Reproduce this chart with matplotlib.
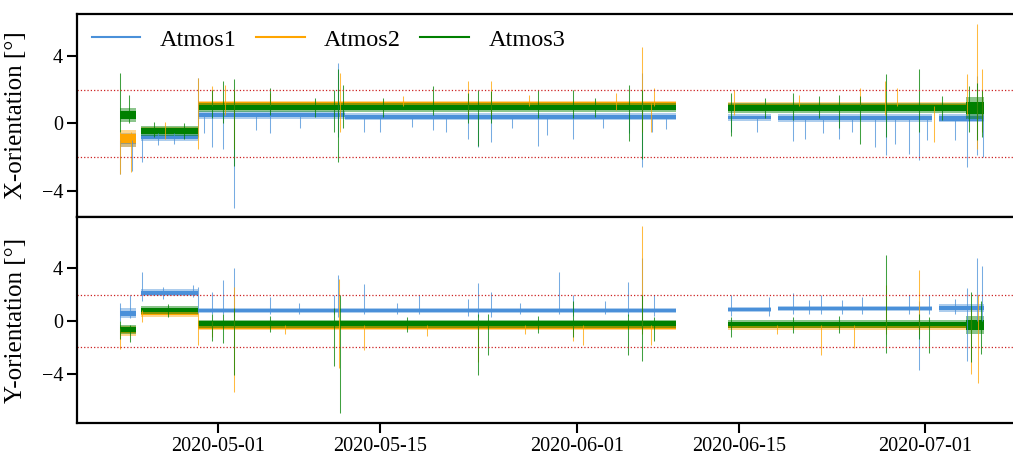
import matplotlib
matplotlib.use("Agg")
import matplotlib.pyplot as plt
import matplotlib.dates as mdates
import pandas as pd
from matplotlib.lines import Line2D

plt.rcParams['font.family'] = ['Liberation Serif', 'DejaVu Serif']

SERIES = ["Atmos1", "Atmos2", "Atmos3"]
COLORS = ["#4a90d9", "#ffa500", "#008000"]
LIMIT = 2.0

# noise bands: (start, end, level, spread)
X1_BANDS = [("2020-04-22 13:00", "2020-04-23 22:00", -1.0, 0.4),
            ("2020-04-24 09:00", "2020-04-29 07:00", -0.8, 0.25),
            ("2020-04-29 07:00", "2020-05-12 00:00", 0.5, 0.22),
            ("2020-05-12 00:00", "2020-06-09 13:00", 0.4, 0.22),
            ("2020-06-14 01:00", "2020-06-17 18:00", 0.35, 0.2),
            ("2020-06-18 09:00", "2020-07-01 15:00", 0.32, 0.22),
            ("2020-07-02 05:00", "2020-07-06 02:00", 0.3, 0.25)]
X2_BANDS = [("2020-04-22 13:00", "2020-04-23 22:00", -0.9, 0.5),
            ("2020-04-24 09:00", "2020-04-29 07:00", -0.4, 0.2),
            ("2020-04-29 07:00", "2020-06-09 13:00", 1.12, 0.22),
            ("2020-06-14 01:00", "2020-07-06 02:00", 1.05, 0.2)]
X3_BANDS = [("2020-04-22 13:00", "2020-04-23 22:00", 0.5, 0.4),
            ("2020-04-24 09:00", "2020-04-29 07:00", -0.45, 0.32),
            ("2020-04-29 07:00", "2020-06-09 13:00", 0.95, 0.27),
            ("2020-06-14 01:00", "2020-07-04 14:00", 0.92, 0.3),
            ("2020-07-04 14:00", "2020-07-06 02:00", 0.9, 0.65)]
Y1_BANDS = [("2020-04-22 13:00", "2020-04-23 22:00", 0.6, 0.35),
            ("2020-04-24 09:00", "2020-04-29 07:00", 2.15, 0.28),
            ("2020-04-29 07:00", "2020-06-09 13:00", 0.8, 0.22),
            ("2020-06-14 01:00", "2020-06-17 18:00", 0.9, 0.2),
            ("2020-06-18 09:00", "2020-07-01 15:00", 0.95, 0.22),
            ("2020-07-02 05:00", "2020-07-06 02:00", 1.0, 0.3)]
Y2_BANDS = [("2020-04-22 13:00", "2020-04-23 22:00", -0.75, 0.35),
            ("2020-04-24 09:00", "2020-04-29 07:00", 0.6, 0.26),
            ("2020-04-29 07:00", "2020-06-09 13:00", -0.45, 0.22),
            ("2020-06-14 01:00", "2020-07-06 02:00", -0.45, 0.2)]
Y3_BANDS = [("2020-04-22 13:00", "2020-04-23 22:00", -0.65, 0.35),
            ("2020-04-24 09:00", "2020-04-29 07:00", 0.85, 0.3),
            ("2020-04-29 07:00", "2020-06-09 13:00", -0.2, 0.3),
            ("2020-06-14 01:00", "2020-07-04 14:00", -0.25, 0.3),
            ("2020-07-04 14:00", "2020-07-06 02:00", -0.3, 0.65)]

# spikes: (time, low, high)
X1_SPIKES = [("2020-04-22 13:00", -3.0, -1.0), ("2020-04-23 13:00", -2.8, -1.0),
             ("2020-04-24 10:00", -2.3, -0.8), ("2020-04-25 20:00", -1.3, -0.6),
             ("2020-04-27 04:00", -1.2, -0.6), ("2020-04-29 06:00", -0.8, 2.7),
             ("2020-04-29 20:00", -0.6, 0.5), ("2020-04-30 12:00", -1.4, 0.5),
             ("2020-05-01 11:00", -1.5, 0.5), ("2020-05-02 10:00", -5.0, 0.5),
             ("2020-05-04 06:00", -0.4, 0.5), ("2020-05-05 12:00", -0.6, 0.5),
             ("2020-05-08 02:00", -0.3, 0.5), ("2020-05-11 08:00", -0.8, 3.6),
             ("2020-05-13 14:00", -0.5, 0.5), ("2020-05-15 00:00", -0.5, 0.5),
             ("2020-05-17 18:00", -0.2, 0.4), ("2020-05-19 13:00", -0.4, 0.4),
             ("2020-05-20 16:00", -0.5, 0.4), ("2020-05-22 14:00", -0.9, 0.4),
             ("2020-05-23 10:00", -1.4, 0.4), ("2020-05-24 13:00", -1.1, 0.4),
             ("2020-05-26 08:00", -0.3, 0.4), ("2020-05-28 15:00", -1.35, 0.4),
             ("2020-05-29 10:00", -0.7, 0.4), ("2020-05-31 16:00", -0.9, 0.4),
             ("2020-06-03 06:00", -0.3, 0.4), ("2020-06-05 12:00", -0.6, 0.4),
             ("2020-06-06 15:00", -2.6, 3.0), ("2020-06-07 12:00", -0.5, 0.3),
             ("2020-06-08 17:00", -0.35, 0.3), ("2020-06-14 07:00", -0.5, 0.3),
             ("2020-06-16 12:00", -0.5, 0.3), ("2020-06-19 16:00", -1.05, 0.3),
             ("2020-06-20 15:00", -0.9, 0.3), ("2020-06-22 06:00", -0.6, 0.3),
             ("2020-06-23 14:00", -0.9, 0.3), ("2020-06-24 18:00", -0.5, 0.3),
             ("2020-06-26 16:00", -1.4, 0.3), ("2020-06-27 15:00", -1.9, 0.3),
             ("2020-06-28 10:00", -1.2, 0.3), ("2020-06-29 15:00", -1.8, 0.3),
             ("2020-06-30 12:00", -2.2, 0.3), ("2020-07-01 04:00", -1.0, 0.3),
             ("2020-07-03 14:00", -1.0, 0.3), ("2020-07-04 15:00", -2.6, 0.3),
             ("2020-07-05 12:00", -1.9, 2.8), ("2020-07-06 01:00", -2.0, 0.5)]
X2_SPIKES = [("2020-04-22 13:00", -3.0, -0.5), ("2020-04-23 12:00", -2.9, -0.5),
             ("2020-04-26 10:00", -0.9, 0.1), ("2020-04-29 07:00", -1.5, 2.7),
             ("2020-04-30 12:00", 1.0, 2.2), ("2020-05-01 15:00", 0.5, 2.3),
             ("2020-05-02 10:00", -1.5, 2.0), ("2020-05-05 12:00", 1.0, 1.8),
             ("2020-05-11 12:00", -0.5, 3.0), ("2020-05-17 00:00", 1.0, 1.6),
             ("2020-05-22 14:00", 0.5, 2.5), ("2020-05-24 13:00", 0.5, 2.5),
             ("2020-05-27 20:00", 1.0, 1.7), ("2020-06-04 08:00", 0.8, 1.8),
             ("2020-06-06 15:00", -0.5, 4.5), ("2020-06-07 09:00", -0.5, 1.2),
             ("2020-06-07 16:00", 1.0, 2.1), ("2020-06-14 12:00", 0.5, 2.0),
             ("2020-06-20 04:00", 1.0, 1.7), ("2020-06-25 09:00", 1.0, 2.1),
             ("2020-06-27 14:00", 0.5, 2.5), ("2020-06-28 14:00", 1.0, 2.1),
             ("2020-07-01 19:00", -1.1, 1.0), ("2020-07-04 15:00", 0.5, 2.9),
             ("2020-07-05 12:00", -1.5, 5.9), ("2020-07-05 22:00", -0.5, 3.2)]
X3_SPIKES = [("2020-04-22 13:00", -0.5, 3.0), ("2020-04-23 08:00", 0.0, 1.7),
             ("2020-04-25 12:00", -0.8, 0.1), ("2020-04-28 02:00", -0.9, 0.0),
             ("2020-04-30 12:00", 0.3, 2.0), ("2020-05-01 11:00", 0.0, 2.5),
             ("2020-05-02 10:00", -2.5, 2.6), ("2020-05-05 12:00", 0.5, 2.1),
             ("2020-05-09 08:00", 0.4, 1.5), ("2020-05-11 00:00", -0.5, 2.0),
             ("2020-05-11 08:00", -2.3, 3.2), ("2020-05-11 18:00", -0.3, 2.3),
             ("2020-05-15 06:00", 0.4, 1.5), ("2020-05-19 13:00", 0.5, 2.2),
             ("2020-05-22 14:00", 0.0, 1.8), ("2020-05-23 10:00", -1.35, 2.0),
             ("2020-05-24 13:00", 0.0, 1.9), ("2020-05-28 15:00", 0.3, 2.0),
             ("2020-05-31 16:00", 0.3, 2.0), ("2020-06-02 12:00", 0.4, 1.5),
             ("2020-06-05 12:00", -1.05, 2.3), ("2020-06-06 15:00", -2.1, 2.0),
             ("2020-06-14 07:00", -0.75, 1.8), ("2020-06-17 06:00", 0.3, 1.5),
             ("2020-06-19 16:00", 0.2, 1.8), ("2020-06-21 20:00", 0.3, 1.6),
             ("2020-06-23 14:00", -0.3, 1.7), ("2020-06-25 09:00", -1.2, 1.6),
             ("2020-06-27 15:00", -0.8, 2.9), ("2020-06-30 12:00", -0.5, 3.2),
             ("2020-07-02 12:00", 0.2, 1.6), ("2020-07-04 20:00", -0.5, 2.2),
             ("2020-07-05 12:00", -1.0, 2.4), ("2020-07-05 22:00", -0.8, 2.0)]
Y1_SPIKES = [("2020-04-22 13:00", 0.0, 1.4), ("2020-04-23 10:00", 0.2, 2.0),
             ("2020-04-24 10:00", 1.5, 3.7), ("2020-04-26 06:00", 1.7, 2.6),
             ("2020-04-28 21:00", 1.8, 2.75), ("2020-04-29 06:00", 0.5, 2.6),
             ("2020-04-30 12:00", 0.5, 2.2), ("2020-05-01 11:00", 0.5, 3.1),
             ("2020-05-02 10:00", 0.4, 4.05), ("2020-05-05 12:00", 0.5, 1.8),
             ("2020-05-08 00:00", 0.5, 1.4), ("2020-05-11 00:00", 0.5, 2.0),
             ("2020-05-11 08:00", 0.3, 3.5), ("2020-05-13 14:00", 0.5, 2.8),
             ("2020-05-16 10:00", 0.5, 1.4), ("2020-05-18 08:00", 0.5, 2.0),
             ("2020-05-22 14:00", 0.4, 1.7), ("2020-05-23 10:00", 0.3, 2.9),
             ("2020-05-24 13:00", 0.3, 2.2), ("2020-05-27 02:00", 0.5, 1.4),
             ("2020-05-30 11:00", 0.5, 3.7), ("2020-05-31 16:00", 0.4, 2.0),
             ("2020-06-03 10:00", 0.5, 1.5), ("2020-06-05 10:00", 0.4, 2.95),
             ("2020-06-06 15:00", -0.5, 4.8), ("2020-06-07 16:00", 0.4, 2.0),
             ("2020-06-14 07:00", 0.4, 2.0), ("2020-06-17 14:00", 0.4, 1.8),
             ("2020-06-19 16:00", 0.5, 2.1), ("2020-06-21 00:00", 0.5, 1.6),
             ("2020-06-22 02:00", 0.5, 2.0), ("2020-06-23 20:00", 0.5, 1.6),
             ("2020-06-25 13:00", 0.5, 1.8), ("2020-06-29 15:00", 0.5, 2.0),
             ("2020-06-30 12:00", -3.7, 1.5), ("2020-07-01 08:00", 0.5, 2.0),
             ("2020-07-03 14:00", 0.5, 1.7), ("2020-07-04 15:00", -3.0, 2.5),
             ("2020-07-05 12:00", 0.0, 4.8), ("2020-07-05 22:00", 0.0, 4.2)]
Y2_SPIKES = [("2020-04-22 13:00", -2.1, -0.5), ("2020-04-24 10:00", -0.1, 0.8),
             ("2020-04-29 07:00", -1.85, 0.6), ("2020-04-30 12:00", -1.2, 0.0),
             ("2020-05-02 10:00", -5.4, 2.6), ("2020-05-06 18:00", -1.0, -0.3),
             ("2020-05-11 10:00", -3.6, 3.2), ("2020-05-13 14:00", -2.2, -0.3),
             ("2020-05-19 00:00", -1.1, -0.3), ("2020-05-23 10:00", -3.1, -0.3),
             ("2020-05-27 12:00", -1.0, -0.3), ("2020-05-31 16:00", -1.5, -0.3),
             ("2020-06-01 12:00", -1.8, -0.3), ("2020-06-06 15:00", -1.0, 7.2),
             ("2020-06-07 09:00", -1.8, -0.3), ("2020-06-18 06:00", -1.0, -0.3),
             ("2020-06-22 02:00", -2.6, -0.3), ("2020-06-24 21:00", -2.05, -0.3),
             ("2020-06-27 15:00", -1.0, 2.7), ("2020-06-30 12:00", -1.0, 3.9),
             ("2020-07-05 00:00", -4.0, 1.0), ("2020-07-05 15:00", -4.7, 2.0)]
Y3_SPIKES = [("2020-04-22 13:00", -1.4, 0.0), ("2020-04-23 10:00", -1.6, -0.3),
             ("2020-04-26 16:00", 0.3, 1.3), ("2020-04-30 12:00", -1.5, 0.5),
             ("2020-05-01 11:00", -1.7, 0.5), ("2020-05-02 10:00", -4.1, 1.0),
             ("2020-05-05 12:00", -0.8, 0.4), ("2020-05-11 00:00", -3.4, 1.0),
             ("2020-05-11 12:00", -7.0, 2.0), ("2020-05-17 08:00", -0.8, 0.3),
             ("2020-05-23 10:00", -4.1, 0.5), ("2020-05-24 08:00", -2.6, 0.5),
             ("2020-05-28 15:00", -0.9, 0.4), ("2020-05-31 16:00", -1.2, 1.5),
             ("2020-06-05 10:00", -2.6, 0.5), ("2020-06-06 15:00", -3.0, 2.0),
             ("2020-06-07 16:00", -1.5, 0.3), ("2020-06-14 07:00", -1.2, 0.3),
             ("2020-06-19 16:00", -0.9, 0.3), ("2020-06-23 14:00", -0.9, 0.4),
             ("2020-06-27 15:00", -2.4, 5.0), ("2020-06-30 12:00", -1.4, 0.5),
             ("2020-07-01 08:00", -2.4, 0.3), ("2020-07-05 00:00", -3.1, 2.2),
             ("2020-07-05 20:00", -2.5, 1.5)]


def draw_series(ax, bands, spikes, color):
    for start, end, level, spread in bands:
        t = pd.to_datetime([start, end])
        # soft outer fringe, solid core
        ax.fill_between(t, level - spread, level + spread, color=color, lw=0, alpha=0.45)
        ax.fill_between(t, level - 0.55 * spread, level + 0.55 * spread, color=color, lw=0)
    t = pd.to_datetime([s[0] for s in spikes])
    ax.vlines(t, [s[1] for s in spikes], [s[2] for s in spikes], color=color, lw=0.75, alpha=0.75)


fig = plt.figure(figsize=(10.13, 4.55), dpi=100)
ax1 = fig.add_axes([0.076, 0.523, 0.937, 0.446])
ax2 = fig.add_axes([0.076, 0.0703, 0.937, 0.453], sharex=ax1)

for b, s, c in zip([X1_BANDS, X2_BANDS, X3_BANDS], [X1_SPIKES, X2_SPIKES, X3_SPIKES], COLORS):
    draw_series(ax1, b, s, c)
for b, s, c in zip([Y1_BANDS, Y2_BANDS, Y3_BANDS], [Y1_SPIKES, Y2_SPIKES, Y3_SPIKES], COLORS):
    draw_series(ax2, b, s, c)

for ax in (ax1, ax2):
    ax.axhline(LIMIT, color="#cc2222", ls=":", lw=0.9)
    ax.axhline(-LIMIT, color="#cc2222", ls=":", lw=0.9)
    for sp in ax.spines.values():
        sp.set_linewidth(1.6)
    ax.tick_params(axis="both", direction="out", length=7, width=1.5, labelsize=14.5, pad=3)
    ax.set_yticks([-4, 0, 4])

ax1.set_ylim(-5.55, 6.47)
ax2.set_ylim(-7.74, 7.9)
ax1.set_xlim(pd.Timestamp("2020-04-18 20:00"), pd.Timestamp("2020-07-09 18:00"))
ax1.tick_params(axis="x", bottom=False, labelbottom=False)
ax2.xaxis.set_major_locator(mdates.DayLocator(bymonthday=[1, 15]))
ax2.xaxis.set_major_formatter(mdates.DateFormatter("%Y-%m-%d"))

ax1.set_ylabel("X-orientation [°]", fontsize=18)
ax2.set_ylabel("Y-orientation [°]", fontsize=18)
ax1.yaxis.set_label_coords(-0.053, 0.5)
ax2.yaxis.set_label_coords(-0.053, 0.5)

handles = [Line2D([0], [0], color=c, lw=1.5) for c in COLORS]
ax1.legend(handles, SERIES, loc="upper left", ncol=3, frameon=False, fontsize=17.5,
           handlelength=2.0, handletextpad=0.8, columnspacing=0.8,
           borderaxespad=0.2, bbox_to_anchor=(0.0, 1.0))

fig.savefig("out.png", dpi=100)
